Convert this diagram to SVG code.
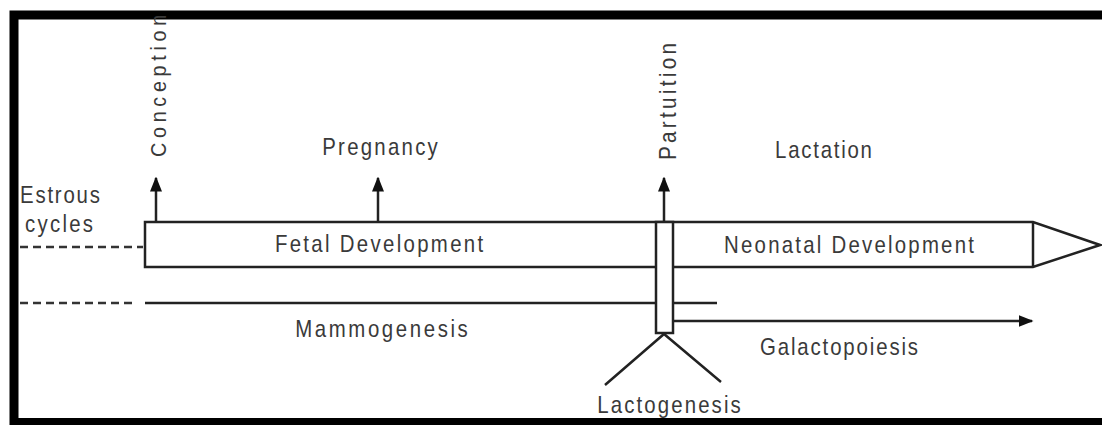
<svg xmlns="http://www.w3.org/2000/svg" width="1102" height="425" viewBox="0 0 1102 425">
<style>
text{font-family:"Liberation Sans",Arial,sans-serif;font-size:24px;fill:#3a3a3a}
.ln{stroke:#222;stroke-width:2.5;fill:none}
.dash{stroke:#333;stroke-width:2.5;fill:none;stroke-dasharray:8,5}
.box{stroke:#222;stroke-width:2.5;fill:#fff}
</style>
<defs>
<marker id="ah" viewBox="0 0 10 10" refX="9" refY="5" markerWidth="15" markerHeight="15" markerUnits="userSpaceOnUse" orient="auto">
<path d="M0,1 L10,5 L0,9 z" fill="#111"/>
</marker>
</defs>
<rect x="0" y="0" width="1102" height="425" fill="#fff"/>
<g id="frame">
<path d="M14,425 L14,15 L1102,15" stroke="#000" stroke-width="9" fill="none"/>
<line x1="10" y1="421.5" x2="1102" y2="421.5" stroke="#000" stroke-width="7"/>
</g>
<g id="connectors">
<line class="ln" x1="156" y1="222" x2="156" y2="178" marker-end="url(#ah)"/>
<line class="ln" x1="378" y1="222" x2="378" y2="178" marker-end="url(#ah)"/>
<line class="ln" x1="664" y1="222" x2="664" y2="178" marker-end="url(#ah)"/>
<line class="dash" x1="20" y1="247" x2="143" y2="247"/>
<line class="dash" x1="20" y1="303" x2="136" y2="303"/>
<line class="ln" x1="145" y1="303" x2="717" y2="303"/>
<line class="ln" x1="673" y1="321" x2="1032" y2="321" marker-end="url(#ah)"/>
<path class="ln" d="M605,385 L664,334 L721,382"/>
</g>
<g id="timeline">
<path class="box" d="M145,222 L1033,222 L1100,245 L1033,267 L145,267 Z"/>
<line class="ln" x1="1033" y1="222" x2="1033" y2="267"/>
<text transform="translate(379,252) scale(0.85,1)" text-anchor="middle" textLength="245" lengthAdjust="spacing">Fetal Development</text>
<text transform="translate(849,253) scale(0.85,1)" text-anchor="middle" textLength="294" lengthAdjust="spacing">Neonatal Development</text>
</g>
<g id="lactogenesis-bar">
<rect class="box" x="656" y="222" width="17" height="111"/>
</g>
<g id="labels">
<text transform="translate(166,157) rotate(-90) scale(0.9,1)" style="font-size:22px" textLength="158" lengthAdjust="spacing">Conception</text>
<text transform="translate(676,160) rotate(-90) scale(0.9,1)" style="font-size:23px" textLength="130" lengthAdjust="spacing">Partuition</text>
<text transform="translate(380,155) scale(0.85,1)" text-anchor="middle" textLength="136" lengthAdjust="spacing">Pregnancy</text>
<text transform="translate(823.5,158) scale(0.85,1)" text-anchor="middle" textLength="114" lengthAdjust="spacing">Lactation</text>
<text transform="translate(20,203) scale(0.85,1)" textLength="94" lengthAdjust="spacing">Estrous</text>
<text transform="translate(25,232) scale(0.85,1)" textLength="80" lengthAdjust="spacing">cycles</text>
<text transform="translate(381.5,337) scale(0.85,1)" text-anchor="middle" textLength="203" lengthAdjust="spacing">Mammogenesis</text>
<text transform="translate(839,355) scale(0.85,1)" text-anchor="middle" textLength="186" lengthAdjust="spacing">Galactopoiesis</text>
<text transform="translate(669,413) scale(0.85,1)" text-anchor="middle" textLength="169" lengthAdjust="spacing">Lactogenesis</text>
</g>
</svg>
